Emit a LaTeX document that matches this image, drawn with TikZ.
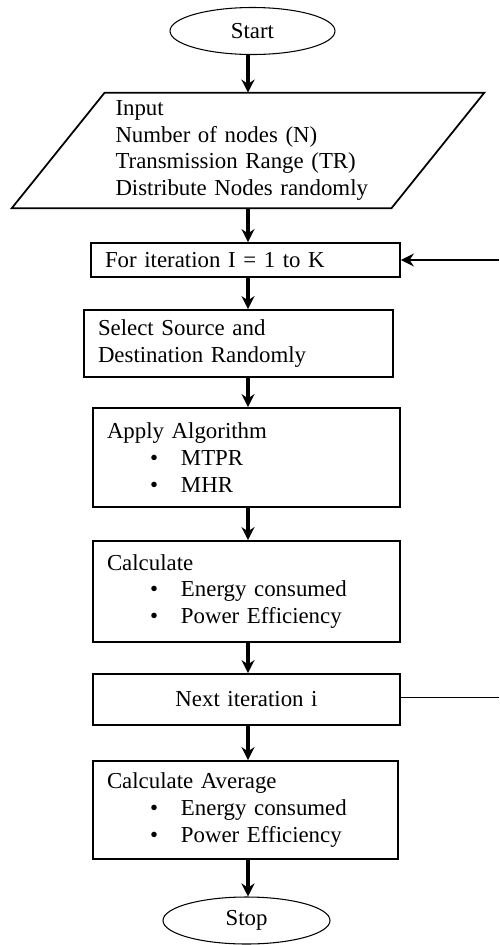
\documentclass[tikz,border=0pt]{standalone}
\usepackage{fontspec}
\setmainfont{Liberation Serif}
\usetikzlibrary{shapes.geometric, arrows.meta}
\newcommand{\bpoint}[1]{\\\hspace*{0.86cm}\makebox[0.62cm][l]{\textbullet}#1}

\begin{document}
\begin{tikzpicture}[font=\fontsize{13}{15.3}\selectfont,
		terminal/.style={draw, ellipse, line width=0.6pt, minimum width=3.3cm, minimum height=0.94cm, inner sep=0pt},
		inbox/.style={rectangle, minimum width=7.58cm, minimum height=2.3cm, text width=5.3cm, align=left, inner sep=0pt},
		stepbox/.style={draw, rectangle, line width=1pt, inner xsep=0.28cm, inner ysep=0pt, align=left},
		flow/.style={line width=1.9pt, -{Stealth[length=0.26cm, width=0.26cm]}},
		feedback/.style={line width=0.8pt, -{Stealth[length=0.26cm, width=0.26cm]}}]
		\useasboundingbox (0,0) rectangle (9.98,-18.9);
		\coordinate (axis) at (4.96,0);

		\node[terminal] (start) at (5.05,-0.62) {Start};
		\node[inbox] (input) at (4.96,-3.01) {Input\\Number of nodes (N)\\\mbox{Transmission Range (TR)}\\\mbox{Distribute Nodes randomly}};
		\draw[line width=1pt] ([shift={(-0.93,0)}]input.south west) -- ([shift={(0.93,0)}]input.north west)
			-- ([shift={(0.93,0)}]input.north east) -- ([shift={(-0.93,0)}]input.south east) -- cycle;
		\node[stepbox, text width=5.62cm, minimum height=0.68cm] (iter) at (4.91,-5.2) {For iteration I = 1 to K};
		\node[stepbox, text width=5.62cm, minimum height=1.34cm] (sel) at (4.77,-6.87) {Select Source and\\Destination Randomly};
		\node[stepbox, text width=5.58cm, minimum height=1.98cm] (apply) at (4.93,-9.15) {Apply Algorithm\bpoint{MTPR}\bpoint{MHR}};
		\node[stepbox, text width=5.58cm, minimum height=2.02cm] (calc) at (4.93,-11.83) {Calculate\bpoint{Energy consumed}\bpoint{Power Efficiency}};
		\node[stepbox, text width=5.58cm, minimum height=1.02cm, align=center] (next) at (4.93,-13.99) {Next iteration i};
		\node[stepbox, text width=5.54cm, minimum height=1.96cm] (avg) at (4.91,-16.2) {Calculate Average\bpoint{Energy consumed}\bpoint{Power Efficiency}};
		\node[terminal, minimum width=3.34cm] (stop) at (4.93,-18.41) {Stop};

		\draw[flow] (start.south -| axis) -- (input.north -| axis);
		\draw[flow] (input.south -| axis) -- (iter.north -| axis);
		\draw[flow] (iter.south -| axis) -- (sel.north -| axis);
		\draw[flow] (sel.south -| axis) -- (apply.north -| axis);
		\draw[flow] (apply.south -| axis) -- (calc.north -| axis);
		\draw[flow] (calc.south -| axis) -- (next.north -| axis);
		\draw[flow] (next.south -| axis) -- (avg.north -| axis);
		\draw[flow] (avg.south -| axis) -- (stop.north -| axis);

		% loop back, vertical part is off the page
		\coordinate (loopin) at (9.98,-5.2);
		\coordinate (loopout) at (9.98,-13.95);
		\draw[feedback] (loopin) -- (iter.east);
		\draw[line width=0.8pt] (next.east |- loopout) -- (loopout);
	\end{tikzpicture}
\end{document}
